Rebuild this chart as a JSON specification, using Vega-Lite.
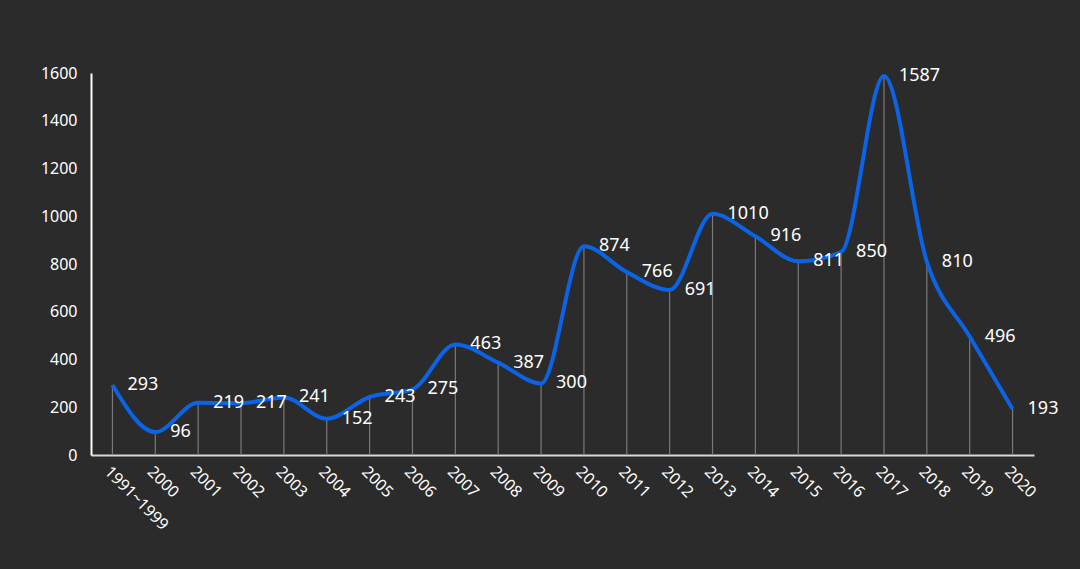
{
  "$schema": "https://vega.github.io/schema/vega-lite/v6.json",
  "width": 943,
  "height": 382,
  "autosize": {"type": "none"},
  "padding": {"left": 91, "top": 73, "right": 46, "bottom": 114},
  "background": "#2b2b2b",
  "config": {
    "view": {"stroke": null},
    "font": "Noto Sans"
  },
  "data": {
    "values": [
      {"year": "1991~1999", "value": 293},
      {"year": "2000", "value": 96},
      {"year": "2001", "value": 219},
      {"year": "2002", "value": 217},
      {"year": "2003", "value": 241},
      {"year": "2004", "value": 152},
      {"year": "2005", "value": 243},
      {"year": "2006", "value": 275},
      {"year": "2007", "value": 463},
      {"year": "2008", "value": 387},
      {"year": "2009", "value": 300},
      {"year": "2010", "value": 874},
      {"year": "2011", "value": 766},
      {"year": "2012", "value": 691},
      {"year": "2013", "value": 1010},
      {"year": "2014", "value": 916},
      {"year": "2015", "value": 811},
      {"year": "2016", "value": 850},
      {"year": "2017", "value": 1587},
      {"year": "2018", "value": 810},
      {"year": "2019", "value": 496},
      {"year": "2020", "value": 193}
    ]
  },
  "encoding": {
    "x": {
      "field": "year",
      "type": "ordinal",
      "sort": null,
      "scale": {"type": "point", "padding": 0.5},
      "axis": {
        "title": null,
        "labelAngle": 45,
        "labelAlign": "left",
        "labelBaseline": "top",
        "labelColor": "#ffffff",
        "labelFontSize": 16,
        "labelPadding": 8,
        "ticks": false,
        "domainColor": "#d8d8d8",
        "domainWidth": 2,
        "grid": false
      }
    },
    "y": {
      "field": "value",
      "type": "quantitative",
      "scale": {"domain": [0, 1600], "nice": false},
      "axis": {
        "title": null,
        "format": "d",
        "values": [0, 200, 400, 600, 800, 1000, 1200, 1400, 1600],
        "labelColor": "#ffffff",
        "labelFontSize": 16,
        "labelPadding": 14,
        "ticks": false,
        "domainColor": "#ffffff",
        "domainWidth": 2,
        "grid": false
      }
    }
  },
  "layer": [
    {
      "mark": {"type": "rule", "color": "#7a7a7a", "strokeWidth": 1.2},
      "encoding": {"y2": {"datum": 0}}
    },
    {
      "mark": {"type": "line", "interpolate": "monotone", "color": "#0b63e6", "strokeWidth": 4}
    },
    {
      "mark": {"type": "text", "align": "left", "baseline": "middle", "dx": 15, "color": "#ffffff", "fontSize": 18},
      "encoding": {"text": {"field": "value", "type": "quantitative"}}
    }
  ]
}
